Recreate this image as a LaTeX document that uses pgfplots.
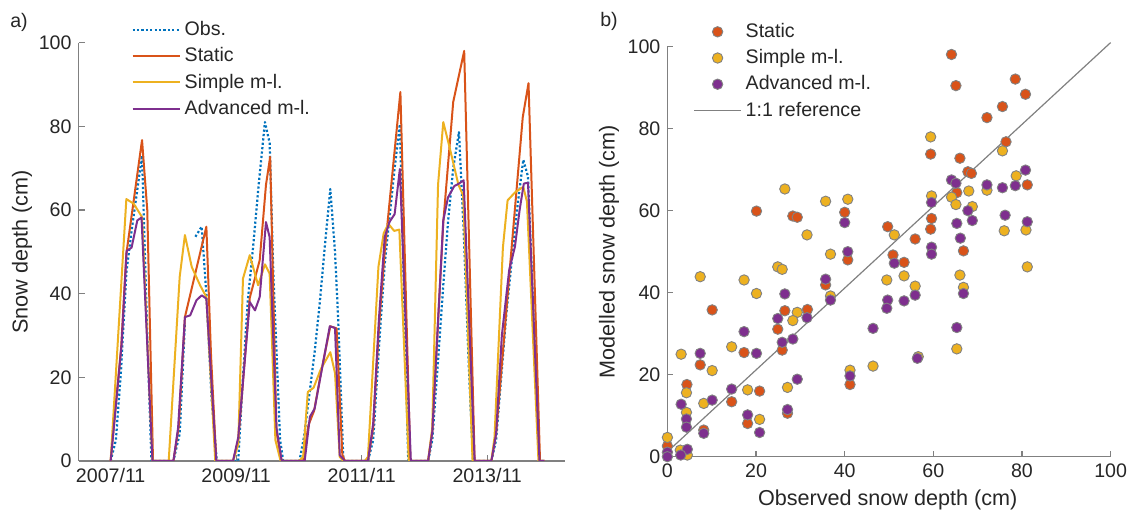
\documentclass[border=0pt]{standalone}
\usepackage{fontspec}
\setmainfont{Liberation Sans}
\usepackage{pgfplots}
\usepackage{pgfplotstable}
\pgfplotsset{compat=1.18}
\definecolor{txt}{RGB}{38,38,38}
\definecolor{axc}{RGB}{128,128,128}
\definecolor{cobs}{RGB}{0,114,189}
\definecolor{csta}{RGB}{217,83,25}
\definecolor{csim}{RGB}{237,177,32}
\definecolor{cadv}{RGB}{126,47,142}
\definecolor{medge}{RGB}{130,130,130}

% x = months since 2007/11
\pgfplotstableread{
x y
0 0
1 5
2 22
3 45
4 55
5 64
6 73
7 30
7.8 0
12 0
13.2 6.5
14.2 33
15 nan
16.2 53.6
17.4 56
18.3 40
19.3 15
20.3 0
24.4 0
25.3 20
26.2 38
27.3 52
28.3 66
29.5 81
30.4 76
31.1 45
32.4 5
33 0
36.1 0
37 6
38 16
39 26
40 38
41 52
42 65
42.9 50
43.5 34
44.5 0
49.2 0
50.2 5
51.5 31
52.4 47
53.3 58
54.3 70
55.3 80.5
56.1 40
56.9 0
60.7 0
61.5 5
62.6 24
63.6 42
64.5 57
65.5 70
66.6 78.6
67.5 55
68.5 22
69.3 0
72.8 0
73.7 5
75.7 35.7
76.7 48
77.7 60
78.9 72
79.8 68
81 30
82 0
83 0
}\obst

\pgfplotstableread{
x y
0 0
2 27
3 49.5
6 76.7
7 60
8.1 0
12 0
13 8
14.2 34.4
18.3 56
19.2 25
20.2 0
23.4 0
24.4 5
26.6 39
28.5 48
29.7 66
30.5 72.7
31.7 7
32.7 0
36.8 0
37.8 8.5
38.9 12
40.2 21
42 32.2
43.2 31.7
44.3 1.5
44.8 0
49.2 0
50.2 8
51.3 32
52.4 50
55.4 88.2
57.3 0
60.7 0
61.5 7
63.6 57
65.5 85.8
67.6 98
69.6 0
72.8 0
73.7 6.5
76.3 45.6
78.8 82.2
79.9 90.3
82.1 0
83 0
}\stat

\pgfplotstableread{
x y
0 0
3 62.6
4.4 61.5
5 60.3
6 58.3
8 0
11.1 0
13.2 44
14.2 54
15.5 46.4
17.1 42
18.3 39.2
20 0
23.4 0
24.4 4
25.3 43.6
26.6 49.2
28.2 42
29.5 47
30.4 44.8
31.5 5
32.5 0
36 0
36.8 1
37.7 16.5
38.8 17.5
40.2 22
42 26
42.9 21
43.8 1
44.5 0
48.6 0
49.2 1
51.2 46.4
52.2 54.4
53.1 56.7
54.2 55
55.2 55.3
57 0
60.7 0
61.5 8
62.6 66
63.6 81
64.8 75
66.5 66
67.4 63.5
69.2 0
72.8 0
73.4 5.7
75.0 51
75.9 62.3
77.4 64.3
78.9 65.5
79.6 62
81.8 0
83 0
}\simt

\pgfplotstableread{
x y
0 0
2.1 28
3.05 50.2
4 51
5.1 57.5
5.9 58.2
8 0
12 0
12.9 8
14.2 34.4
15.2 34.8
16.4 38.4
17.4 39.6
18.3 38.8
20.2 0
23.4 0
24.4 5.7
26.6 38
27.6 36
28.5 39.2
29.7 57.1
30.4 53.5
31.7 8
32.7 0
37.1 0
38.1 10.6
39 12.5
41.9 32.2
42.9 31.8
43.8 1.4
44.8 0
49.2 0
50.2 9
51.3 34
52.4 53.5
53.3 57.1
54.3 59
55.3 69.8
57.4 0
60.7 0
61.5 7
63.6 57.5
64.5 63
65.7 65.7
66.6 66.3
67.5 67.1
69.6 0
72.8 0
73.7 6.5
74.8 30
76.2 45.6
77.3 51.2
78.2 60
79.0 66.3
79.8 66.5
82 0
83 0
}\advt

\pgfplotsset{
 common/.style={
   scale only axis, anchor=south west,
   axis x line*=bottom, axis y line*=left,
   axis line style={axc, line width=0.55pt},
   every tick/.style={axc, line width=0.55pt},
   tick align=inside, major tick length=3pt,
   tick label style={font=\fontsize{9.8}{11}\selectfont, text=txt},
   label style={font=\fontsize{10.8}{12}\selectfont, text=txt},
   /pgf/number format/assume math mode=true,
   legend style={draw=none, fill=none, font=\fontsize{9.8}{11}\selectfont,
     text=txt, anchor=north west, inner sep=0pt, row sep=0.5pt},
   legend cell align=left,
 },
 linel/.style={legend image code/.code={\draw[##1] (0pt,0pt) -- (23.5pt,0pt);}},
 markl/.style={legend image code/.code={\draw[##1] plot coordinates {(11.75pt,0pt)};}},
 scat/.style={only marks, mark=*, mark size=2.6pt,
   mark options={fill=#1, draw=medge, line width=0.45pt}, markl},
}

\begin{document}
\begin{tikzpicture}
\useasboundingbox (0,0) rectangle (565.5pt,257pt);
\node[font=\fontsize{9.8}{11}\selectfont, text=txt] at (9.5pt,246pt) {a)};
\node[font=\fontsize{9.8}{11}\selectfont, text=txt] at (304.5pt,246.5pt) {b)};

\begin{axis}[common,
  at={(39.3pt,26.5pt)}, width=243pt, height=209.2pt,
  xmin=-6.13, xmax=86.8, ymin=0, ymax=100,
  xtick={0,24,48,72}, xticklabels={2007/11,2009/11,2011/11,2013/11},
  ytick={0,20,40,60,80,100},
  ylabel={Snow depth (cm)},
  ylabel style={at={(axis description cs:-0.1165,0.5)}, anchor=center},
  unbounded coords=jump,
  legend style={at={(axis description cs:0.108,1.061)}},
  line join=round,
]
\addplot[cobs, line width=1.1pt, dash pattern=on 1.1pt off 1.1pt, linel] table {\obst};
\addlegendentry{Obs.}
\addplot[csta, line width=1pt, linel] table {\stat};
\addlegendentry{Static}
\addplot[csim, line width=1pt, linel] table {\simt};
\addlegendentry{Simple m-l.}
\addplot[cadv, line width=1pt, linel] table {\advt};
\addlegendentry{Advanced m-l.}
\end{axis}

\begin{axis}[common,
  at={(333.7pt,28.65pt)}, width=221.6pt, height=205pt,
  xmin=0, xmax=100, ymin=0, ymax=100,
  xtick={0,20,40,60,80,100}, ytick={0,20,40,60,80,100},
  clip=false,
  xlabel={Observed snow depth (cm)},
  ylabel={Modelled snow depth (cm)},
  xlabel style={at={(axis description cs:0.497,-0.1056)}, anchor=center},
  ylabel style={at={(axis description cs:-0.1318,0.5)}, anchor=center},
  legend style={at={(axis description cs:0.058,1.068)}},
]
\addplot[scat=csta] coordinates {
(64.1,98.1)(65.1,90.5)(78.5,92.1)(80.8,88.4)(75.6,85.4)(72.1,82.7)(76.4,76.8)
(59.4,73.8)(66.0,72.8)(67.8,69.5)(68.6,69.1)(65.3,64.4)(81.2,66.3)(20.1,59.9)
(28.3,58.7)(29.3,58.4)(40.0,59.6)(59.6,58.1)(59.4,55.5)(49.7,56.1)(55.9,53.1)
(40.7,48)(50.9,49.2)(53.4,47.4)(66.8,50.2)(35.7,41.9)(10.1,35.8)(26.5,35.6)
(31.6,35.9)(24.9,31.1)(25.9,26)(17.3,25.4)(7.4,22.4)(4.4,17.6)(41.2,17.6)
(20.8,16)(14.5,13.4)(27.1,10.6)(18.1,8.1)(8.2,6.5)(0,2.6)
};
\addlegendentry{Static}
\addplot[scat=csim] coordinates {
(59.4,78.0)(75.6,74.6)(78.7,68.5)(72.1,65)(68.0,64.8)(64.1,63.3)(59.6,63.6)
(65.1,61.5)(68.8,61)(26.5,65.3)(35.7,62.3)(40.7,62.8)(31.5,54.1)(51.2,54.1)
(76,55.1)(80.9,55.3)(36.8,49.4)(24.9,46.3)(25.9,45.7)(7.4,43.9)(17.3,43.1)
(49.5,43.1)(53.4,44.1)(55.9,41.6)(66,44.3)(66.8,41.3)(81.2,46.3)(20.1,39.8)
(29.3,35.2)(28.3,33.2)(36.8,39.2)(14.5,26.8)(3.1,25)(65.3,26.3)(46.4,22.1)
(41.2,21.1)(10.1,21)(4.3,15.6)(18.1,16.3)(27.1,16.9)(8.2,13)(4.3,10.8)
(20.8,9.1)(0,4.7)(2.9,1.6)(4.5,0.4)(56.6,24.4)
};
\addlegendentry{Simple m-l.}
\addplot[scat=cadv] coordinates {
(64.1,67.5)(65.1,66.7)(80.8,69.9)(72.1,66.3)(75.6,65.6)(78.5,66.1)(59.6,62)
(67.8,60)(68.8,57.6)(65.3,56.9)(76.2,58.9)(81.2,57.3)(66.1,53.3)(59.6,51.1)
(59.6,49.4)(40.0,57.1)(40.7,50)(51.2,47.2)(35.7,43.3)(36.8,38.2)(26.5,39.7)
(49.7,38.2)(49.5,36.2)(53.4,38)(55.9,39.4)(66.8,39.8)(65.3,31.5)(24.9,33.7)
(31.5,33.9)(46.4,31.3)(17.3,30.5)(25.9,27.9)(28.3,28.7)(7.4,25.2)(20.1,25.2)
(56.4,24)(41.2,19.7)(29.3,18.9)(14.5,16.5)(10.1,13.8)(3.1,12.8)(27.1,11.5)
(4.3,9.2)(4.3,7.2)(18.1,10.2)(8.2,5.7)(20.8,5.9)(4.5,1.8)(0,1.1)(3,0.4)(0,0)
};
\addlegendentry{Advanced m-l.}
\addplot[axc, line width=0.6pt, linel] coordinates {(0,1.2)(100,101)};
\addlegendentry{1:1 reference}
\end{axis}
\end{tikzpicture}
\end{document}
